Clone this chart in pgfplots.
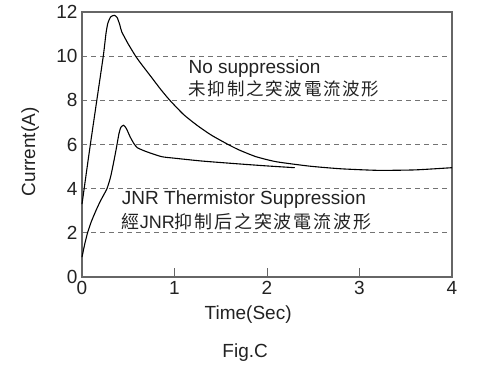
\documentclass[border=0pt]{standalone}
\usepackage{pgfplots}
\pgfplotsset{compat=1.18}
\usepackage{fontspec}
\setmainfont{Liberation Sans}
\newfontfamily\cjk[LetterSpace=10]{Noto Sans CJK TC}
\definecolor{frame}{HTML}{666666}
\definecolor{txt}{HTML}{222222}
\begin{document}
\begin{tikzpicture}
\begin{axis}[
  at={(0,0)}, anchor=south west,
  scale only axis, width=370pt, height=265pt,
  xmin=0, xmax=4, ymin=0, ymax=12,
  xtick={0,1,2,3,4}, ytick={0,2,4,6,8,10,12},
  tick align=inside, xtick pos=bottom, ytick pos=left,
  major tick length=9pt,
  x tick style={draw=frame, line width=1pt},
  y tick style={draw=none},
  ymajorgrids, grid style={dashed, gray!90!black, line width=0.9pt, dash pattern=on 5pt off 4pt},
  axis line style={draw=frame, line width=1.4pt},
  /pgf/number format/assume math mode=true,
  ticklabel style={font=\fontsize{19}{22}\selectfont, text=txt},
  xticklabel style={yshift=-1pt},
  yticklabel style={xshift=-1pt},
  clip=false,
]
\addplot[black, line width=1.1pt, smooth, tension=0.35] coordinates {
(0,3.3) (0.08,5.7) (0.16,8.0) (0.23,10.0) (0.26,11.05) (0.28,11.5) (0.31,11.78) (0.35,11.85) (0.38,11.75) (0.41,11.4) (0.43,11.1)
(0.5,10.55) (0.58,10.0) (0.64,9.65) (0.75,9.05) (0.85,8.5) (0.95,8.0) (1.1,7.35) (1.25,6.85) (1.4,6.42) (1.58,6.0)
(1.7,5.75) (1.88,5.45) (2.1,5.22) (2.46,5.02) (2.8,4.9) (3.2,4.83) (3.6,4.85) (4.0,4.95)
};
\addplot[black, line width=1.1pt, smooth, tension=0.35] coordinates {
(0,0.9) (0.03,1.5) (0.06,2.0) (0.1,2.5) (0.15,3.0) (0.2,3.45) (0.27,4.0) (0.31,4.55) (0.34,5.15) (0.37,5.8) (0.40,6.5)
(0.42,6.78) (0.45,6.87) (0.48,6.72) (0.52,6.35) (0.56,6.05) (0.6,5.85) (0.7,5.67) (0.86,5.45) (1.0,5.38) (1.3,5.25)
(1.7,5.12) (2.0,5.03) (2.3,4.95)
};
\node[anchor=west, font=\fontsize{19}{22}\selectfont, text=txt, inner sep=0pt] at (axis cs:1.15,9.45) {No suppression};
\node[anchor=west, font=\fontsize{17.5}{22}\selectfont\cjk, text=txt, inner sep=0pt] at (axis cs:1.15,8.5) {未抑制之突波電流波形};
\node[anchor=west, font=\fontsize{19}{22}\selectfont, text=txt, inner sep=0pt] at (axis cs:0.43,3.5) {JNR Thermistor Suppression};
\node[anchor=west, font=\fontsize{18}{22}\selectfont, text=txt, inner sep=0pt] at (axis cs:0.43,2.5) {{\cjk 經}JNR{\cjk 抑制后之突波電流波形}};
\node[font=\fontsize{19}{22}\selectfont, text=txt] at (axis description cs:0.449,-0.143) {Time(Sec)};
\node[font=\fontsize{19}{22}\selectfont, text=txt] at (axis description cs:0.441,-0.287) {Fig.C};
\node[font=\fontsize{19}{22}\selectfont, text=txt, rotate=90] at (axis description cs:-0.14,0.472) {Current(A)};
\end{axis}
\path[use as bounding box] (-82pt,-96pt) rectangle (396pt,277pt);
\end{tikzpicture}
\end{document}
